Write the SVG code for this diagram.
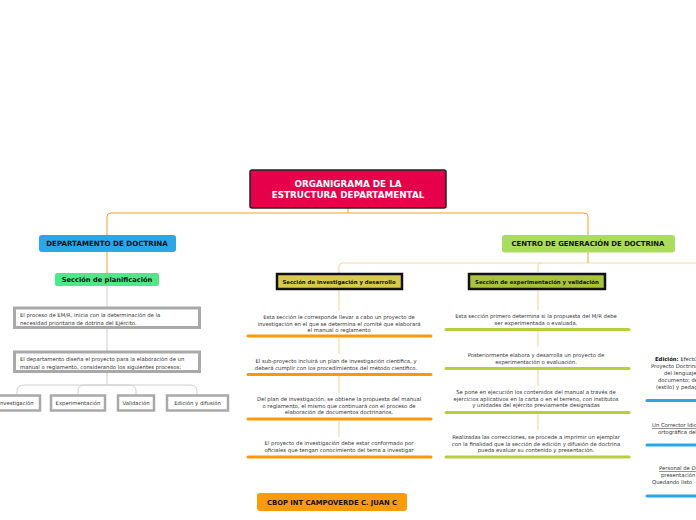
<svg xmlns="http://www.w3.org/2000/svg" width="696" height="520" viewBox="0 0 696 520">
<style>
text{font-family:"DejaVu Sans",Verdana,sans-serif}
.b{font-weight:bold;fill:#111;text-anchor:middle}
.t{font-size:5.3px;fill:#333;text-anchor:middle}
.tl{font-size:5.3px;fill:#333}
.gb{fill:#fff;stroke:#a9a9a9;stroke-width:3}
.sb{fill:#fff;stroke:#a9a9a9;stroke-width:2.5}
.or{stroke:#f5a11c;stroke-width:1;fill:none}
.po{stroke:#fcd7a6;stroke-width:1.2;fill:none}
.gr{stroke:#cfcfcf;stroke-width:1;fill:none}
.bo{stroke:#fa9a0a;stroke-width:3;stroke-linecap:round}
.bg{stroke:#b6cf3b;stroke-width:3;stroke-linecap:round}
.bb{stroke:#2aa6e6;stroke-width:3;stroke-linecap:round}
</style>
<rect width="696" height="520" fill="#fff"/>
<g id="connectors">
<path class="or" d="M348,208V213M107,235V217Q107,213 111,213H584Q588,213 588,217V235"/>
<path class="or" d="M107,252V273"/>
<path class="gr" d="M107,286V307M107,328V351M107,372V385"/>
<path class="gr" d="M107,385H25Q17,385 17,391V395M107,385H85Q78,385 78,391V395M107,385H129Q136,385 136,391V395M107,385H190Q197,385 197,391V395"/>
<path class="or" d="M588,252V263"/>
<path class="po" d="M339,273V267Q339,263 343,263H696M538,272V267Q538,263 542,263"/>
<path class="po" d="M339,290V310M339,338V354M339,376V393M339,421V437"/>
<path class="po" d="M538,291V310M538,331V347M538,370V386M538,414V430"/>
</g>
<g id="root">
<rect x="250" y="170" width="196" height="38" rx="2" fill="#e6004c" stroke="#222" stroke-width="1.5"/>
<text class="b" x="348" y="187" font-size="8.8" style="fill:#fff">ORGANIGRAMA DE LA</text>
<text class="b" x="348" y="198" font-size="8.8" style="fill:#fff">ESTRUCTURA DEPARTAMENTAL</text>
</g>
<g id="dept">
<rect x="39" y="235" width="137" height="17" rx="3" fill="#29a7e7"/>
<text class="b" x="107" y="246" font-size="7.1">DEPARTAMENTO DE DOCTRINA</text>
</g>
<g id="planificacion">
<rect x="55" y="273" width="104" height="13" rx="2" fill="#4fe78b"/>
<text class="b" x="107" y="282" font-size="6.7">Sección de planificación</text>
</g>
<g id="box1">
<rect class="gb" x="14.5" y="308" width="185" height="19.5"/>
<text class="tl" x="20" y="317">El proceso de EM/R, inicia con la determinación de la</text>
<text class="tl" x="20" y="324.5">necesidad prioritaria de dotrina del Ejército.</text>
</g>
<g id="box2">
<rect class="gb" x="14.5" y="352" width="185" height="19.5"/>
<text class="tl" x="20" y="361">El departamento diseña el proyecto para la elaboración de un</text>
<text class="tl" x="20" y="368.5">manual o reglamento, considerando los siguientes procesos:</text>
</g>
<g id="investigacion">
<rect class="sb" x="-8" y="395.5" width="48" height="15"/>
<text class="t" x="16" y="405">Investigación</text>
</g>
<g id="experimentacion">
<rect class="sb" x="51" y="395.5" width="54" height="15"/>
<text class="t" x="78" y="405">Experimentación</text>
</g>
<g id="validacion">
<rect class="sb" x="118" y="395.5" width="36" height="15"/>
<text class="t" x="136" y="405">Validación</text>
</g>
<g id="edicion">
<rect class="sb" x="167" y="395.5" width="61" height="15"/>
<text class="t" x="197.5" y="405">Edición y difusión</text>
</g>
<g id="centro">
<rect x="502" y="235" width="173" height="17.5" rx="3" fill="#a9dd5b"/>
<text class="b" x="588" y="246" font-size="6.9">CENTRO DE GENERACIÓN DE DOCTRINA</text>
</g>
<g id="sec-investigacion">
<rect x="277" y="274" width="125" height="15" fill="#d8ca4c" stroke="#111" stroke-width="2.5"/>
<text class="b" x="339" y="284" font-size="5.4">Sección de investigación y desarrollo</text>
</g>
<g id="sec-experimentacion">
<rect x="469" y="274" width="136" height="15" fill="#a8c23b" stroke="#111" stroke-width="2.5"/>
<text class="b" x="537" y="284" font-size="5.4">Sección de experimentación y validación</text>
</g>
<g id="inv-1">
<text class="t" x="339" y="319">Esta sección le corresponde llevar a cabo un proyecto de</text>
<text class="t" x="339" y="325.5">investigación en el que se determina el comité que elaborará</text>
<text class="t" x="339" y="332">el manual o reglamento</text>
<line class="bo" x1="248" y1="336" x2="431" y2="336"/>
</g>
<g id="inv-2">
<text class="t" x="336" y="363">El sub-proyecto incluirá un plan de investigación científica, y</text>
<text class="t" x="336" y="369.5">deberá cumplir con los procedimientos del método científico.</text>
<line class="bo" x1="248" y1="374.5" x2="431" y2="374.5"/>
</g>
<g id="inv-3">
<text class="t" x="339" y="401">Del plan de investigación, se obtiene la propuesta del manual</text>
<text class="t" x="339" y="407.5">o reglamento, el mismo que continuará con el proceso de</text>
<text class="t" x="339" y="414">elaboración de documentos doctrinarios.</text>
<line class="bo" x1="248" y1="419" x2="431" y2="419"/>
</g>
<g id="inv-4">
<text class="t" x="339" y="445">El proyecto de investigación debe estar conformado por</text>
<text class="t" x="339" y="451.5">oficiales que tengan conocimiento del tema a investigar</text>
<line class="bo" x1="248" y1="457" x2="431" y2="457"/>
</g>
<g id="exp-1">
<text class="t" x="536" y="318">Esta sección primero determina si la propuesta del M/R debe</text>
<text class="t" x="536" y="325">ser experimentada o evaluada.</text>
<line class="bg" x1="446" y1="329.5" x2="629" y2="329.5"/>
</g>
<g id="exp-2">
<text class="t" x="536" y="356.5">Posteriormente elabora y desarrolla un proyecto de</text>
<text class="t" x="536" y="363.5">experimentación o evaluación.</text>
<line class="bg" x1="446" y1="368.5" x2="629" y2="368.5"/>
</g>
<g id="exp-3">
<text class="t" x="536" y="394">Se pone en ejecución los contenidos del manual a través de</text>
<text class="t" x="536" y="400.5">ejercicios aplicativos en la carta o en el terreno, con institutos</text>
<text class="t" x="536" y="407">y unidades del ejército previamente designadas</text>
<line class="bg" x1="446" y1="412.5" x2="629" y2="412.5"/>
</g>
<g id="exp-4">
<text class="t" x="536" y="439">Realizadas las correcciones, se procede a imprimir un ejemplar</text>
<text class="t" x="536" y="445.5">con la finalidad que la sección de edición y difusión de doctrina</text>
<text class="t" x="536" y="452">pueda evaluar su contenido y presentación.</text>
<line class="bg" x1="446" y1="457" x2="629" y2="457"/>
</g>
<g id="edi-1">
<text class="tl" x="655" y="361"><tspan font-weight="bold" fill="#111">Edición:</tspan> Efectúa</text>
<text class="tl" x="651" y="368">Proyecto Doctrinario</text>
<text class="tl" x="664" y="375">del lenguaje</text>
<text class="tl" x="658" y="382">documento; de</text>
<text class="tl" x="656" y="389">(estilo) y pedagógica</text>
<line class="bb" x1="647" y1="400.5" x2="700" y2="400.5"/>
</g>
<g id="edi-2">
<text class="tl" x="652" y="427" text-decoration="underline">Un Corrector Idiomático</text>
<text class="tl" x="658" y="434">ortográfica del</text>
<line class="bb" x1="647" y1="445" x2="700" y2="445"/>
</g>
<g id="edi-3">
<text class="tl" x="659" y="470" text-decoration="underline">Personal de Diseño</text>
<text class="tl" x="661" y="477">presentación</text>
<text class="tl" x="652" y="484">Quedando listo</text>
<line class="bb" x1="647" y1="496" x2="700" y2="496"/>
</g>
<g id="autor">
<rect x="257" y="493" width="150" height="18" rx="3" fill="#fb9a0a"/>
<text class="b" x="332" y="504.5" font-size="6.8">CBOP INT CAMPOVERDE C. JUAN C</text>
</g>
</svg>
